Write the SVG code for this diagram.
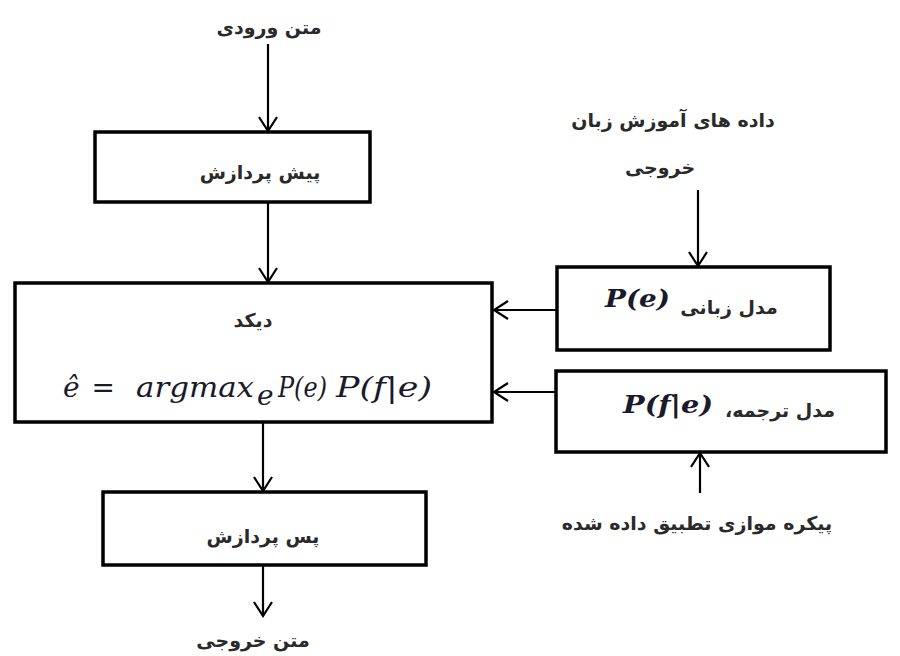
<svg xmlns="http://www.w3.org/2000/svg" width="900" height="656" viewBox="0 0 900 656">
<style>
.box{fill:#fff;stroke:#000;stroke-width:3.5}
.fa{font-family:"DejaVu Sans",sans-serif;font-size:19px;font-weight:bold;fill:#2a2a2a;text-anchor:middle}
.m{font-family:"DejaVu Serif","Liberation Serif",serif;font-style:italic;font-size:28px;fill:#1a1a2a}
.mb{font-family:"DejaVu Serif","Liberation Serif",serif;font-style:italic;font-weight:bold;font-size:24px;fill:#1a1a2a}
.c{stroke:#000;stroke-width:2.2;fill:none;marker-end:url(#ah)}
</style>
<defs>
<marker id="ah" markerWidth="24" markerHeight="24" refX="20" refY="10" orient="auto" markerUnits="userSpaceOnUse">
<path d="M6,1 L20,10 L6,19" fill="none" stroke="#000" stroke-width="2.2"/>
</marker>
</defs>
<rect width="900" height="656" fill="#fff"/>
<g id="connectors">
<line class="c" x1="268" y1="44" x2="268" y2="131"/>
<line class="c" x1="268" y1="203" x2="268" y2="282"/>
<line class="c" x1="698" y1="190" x2="698" y2="266"/>
<line class="c" x1="556" y1="310" x2="494" y2="310"/>
<line class="c" x1="556" y1="392" x2="494" y2="392"/>
<line class="c" x1="700" y1="493" x2="700" y2="453"/>
<line class="c" x1="263" y1="423" x2="263" y2="491"/>
<line class="c" x1="263" y1="566" x2="263" y2="616"/>
</g>
<g id="input"><text class="fa" x="269" y="34" direction="rtl">متن ورودی</text></g>
<g id="preprocess">
<rect class="box" x="95" y="132" width="275" height="70"/>
<text class="fa" x="260" y="179" direction="rtl">پیش پردازش</text>
</g>
<g id="lmdata">
<text class="fa" x="673" y="127" direction="rtl">داده های آموزش زبان</text>
<text class="fa" x="660" y="174" direction="rtl">خروجی</text>
</g>
<g id="decoder">
<rect class="box" x="15" y="283" width="477" height="139"/>
<text class="fa" x="253" y="327" direction="rtl">دیکد</text>
<text class="m" x="63" y="397" textLength="52" lengthAdjust="spacing">ê =</text>
<text class="m" x="136" y="397" textLength="118" lengthAdjust="spacingAndGlyphs">argmax</text>
<text class="m" x="257" y="405" font-size="14">e</text>
<text class="m" x="278" y="397" textLength="49" lengthAdjust="spacingAndGlyphs">P(e)</text>
<text class="m" x="336" y="397" textLength="96" lengthAdjust="spacingAndGlyphs">P(f|e)</text>
</g>
<g id="langmodel">
<rect class="box" x="557" y="267" width="273" height="83"/>
<text class="mb" x="605" y="307" textLength="65" lengthAdjust="spacingAndGlyphs">P(e)</text>
<text class="fa" x="729" y="314" direction="rtl">مدل زبانی</text>
</g>
<g id="transmodel">
<rect class="box" x="556" y="371" width="330" height="81"/>
<text class="mb" x="623" y="413" textLength="90" lengthAdjust="spacingAndGlyphs">P(f|e)</text>
<text class="fa" x="780" y="417" direction="rtl">مدل ترجمه،</text>
</g>
<g id="corpus"><text class="fa" x="697" y="530" direction="rtl">پیکره موازی تطبیق داده شده</text></g>
<g id="postprocess">
<rect class="box" x="103" y="492" width="323" height="73"/>
<text class="fa" x="263" y="543" direction="rtl">پس پردازش</text>
</g>
<g id="output"><text class="fa" x="253" y="647" direction="rtl">متن خروجی</text></g>
</svg>
